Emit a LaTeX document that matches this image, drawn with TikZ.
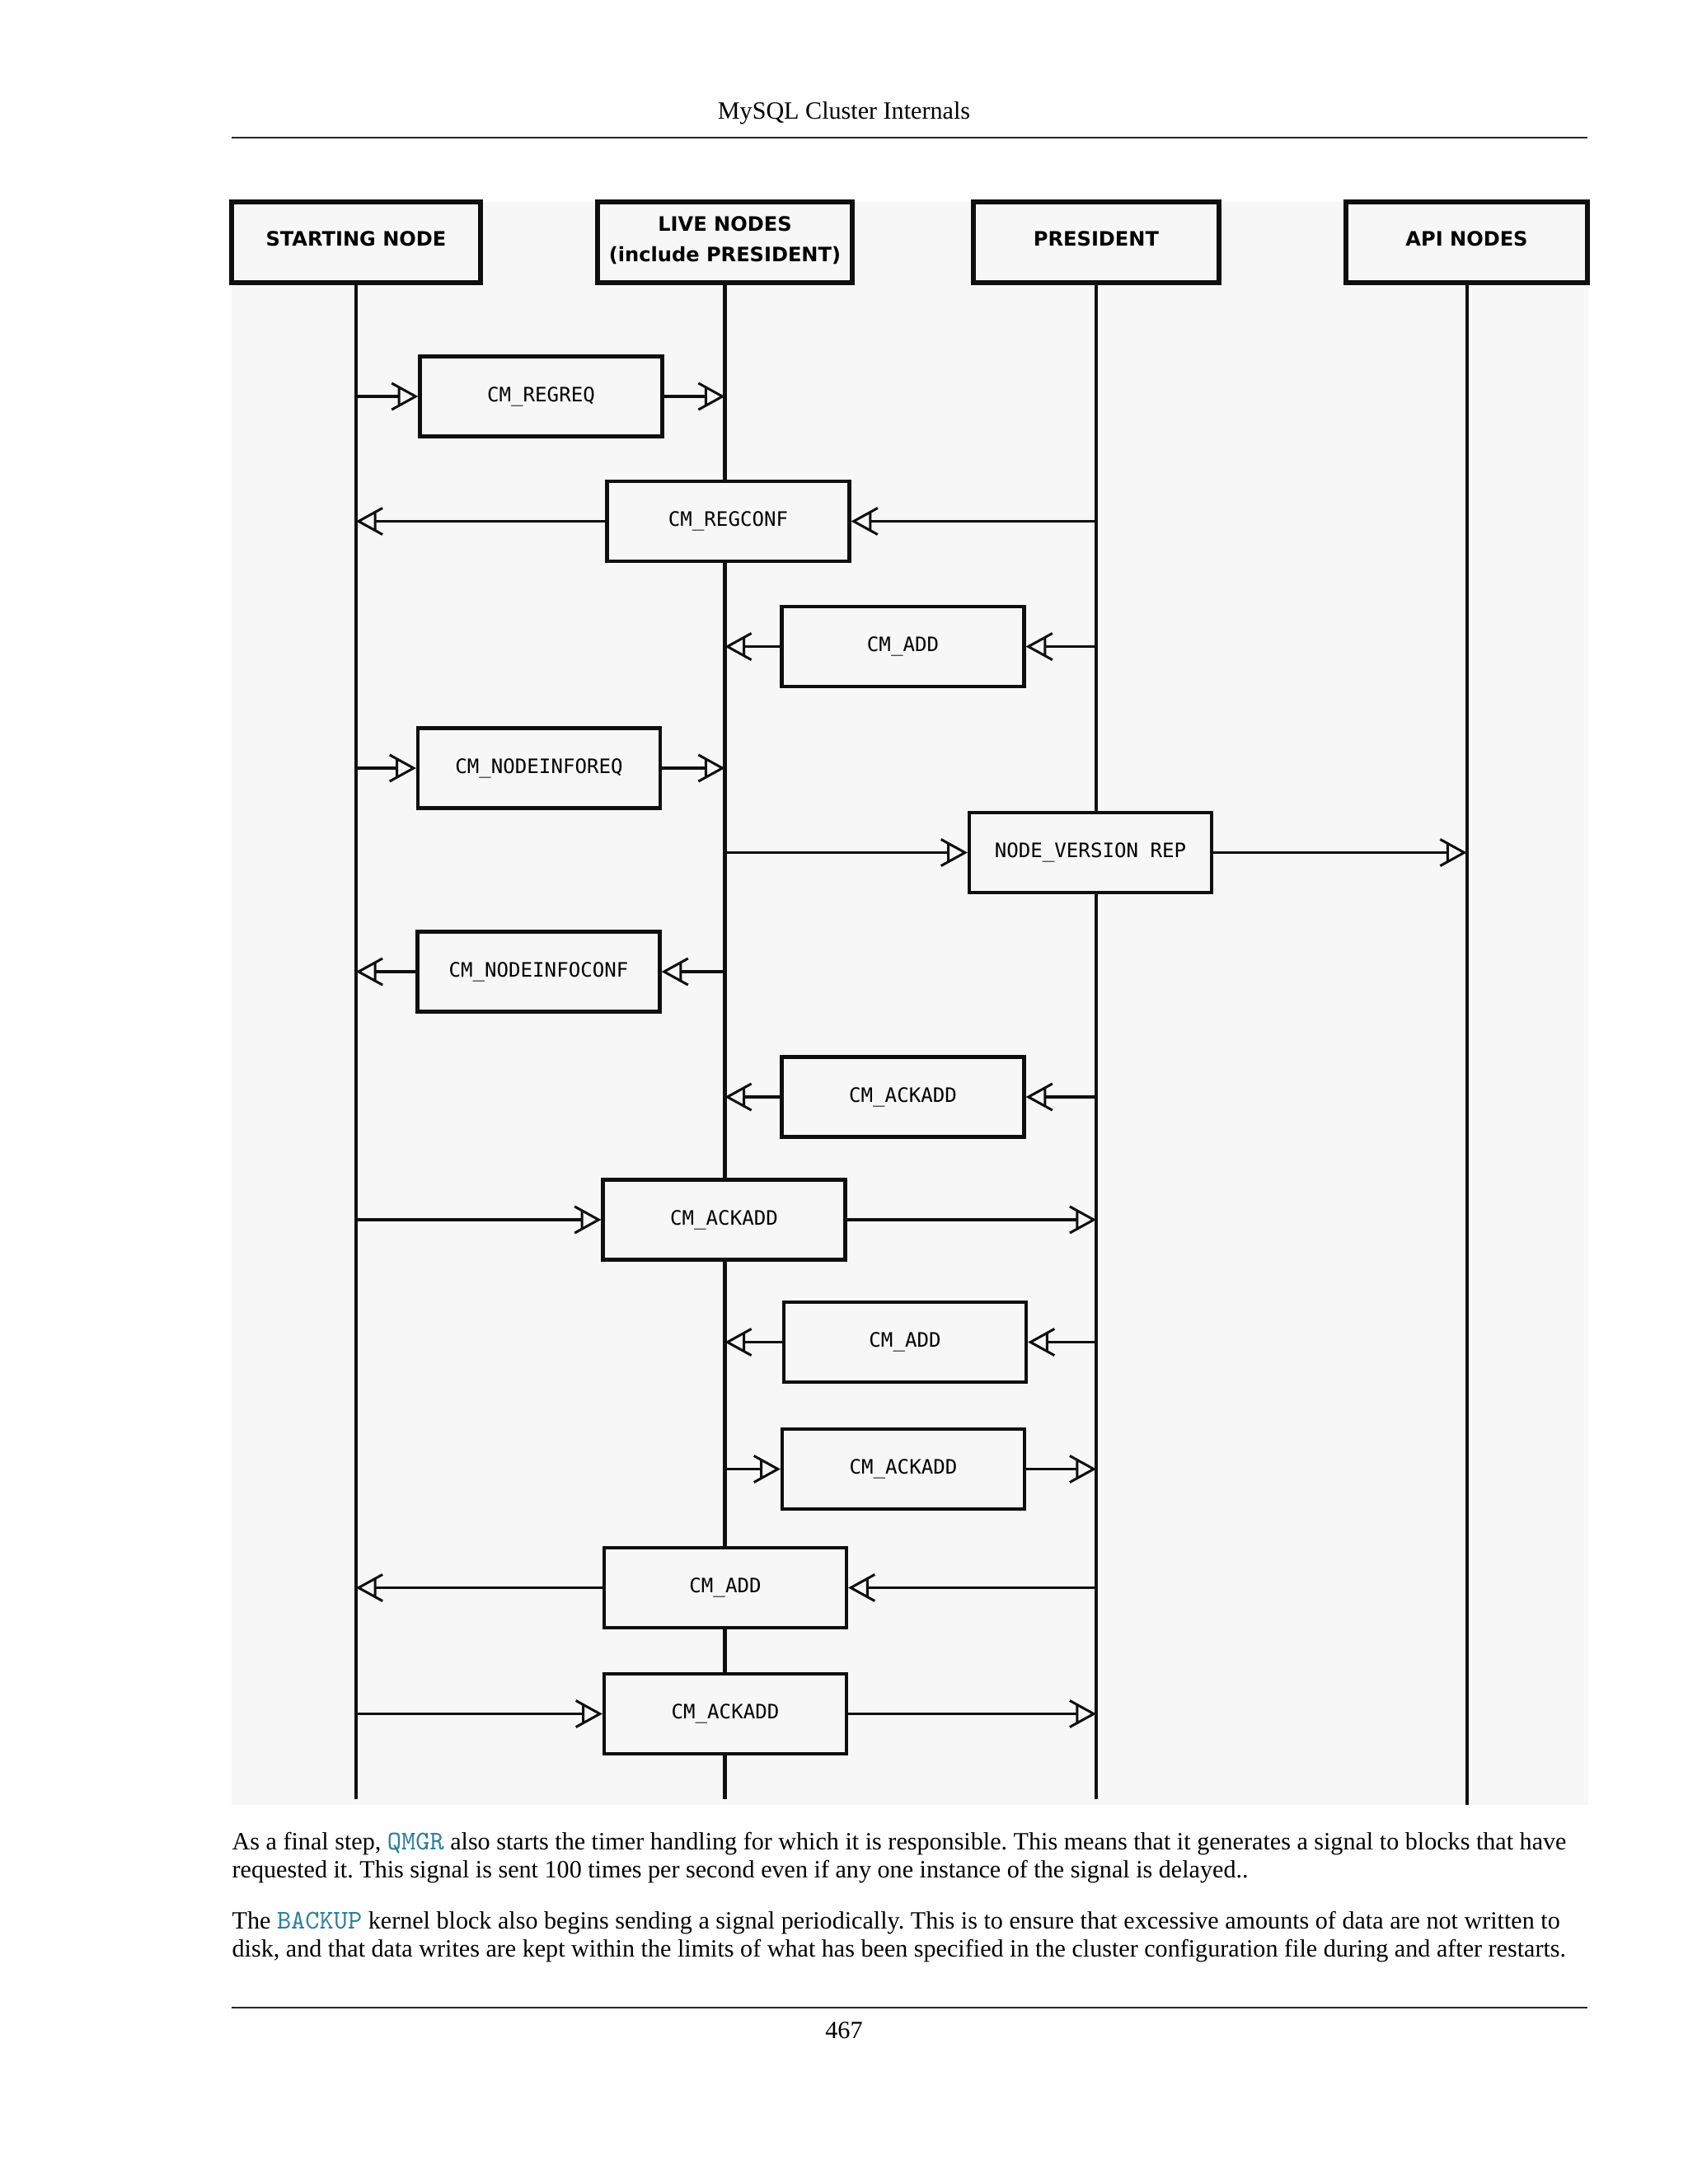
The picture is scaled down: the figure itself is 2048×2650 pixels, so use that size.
\documentclass[tikz,border=0pt]{standalone}
\usepackage{fontspec}
\setmainfont{Liberation Serif}
\newfontfamily\hdrfont{DejaVu Sans}
\newfontfamily\msgfont{DejaVu Sans Mono}
\usetikzlibrary{arrows.meta}
\definecolor{bgc}{RGB}{247,247,247}
\definecolor{linkc}{RGB}{46,125,155}
\definecolor{inkc}{RGB}{15,15,15}
\pgfdeclarearrow{
  name = MsgTip,
  setup code = {
    \pgfarrowssettipend{0.9pt}
    \pgfarrowssetlineend{-6pt}
    \pgfarrowssetvisualbackend{-8.7pt}
    \pgfarrowssetbackend{-8.7pt}
    \pgfarrowshullpoint{0.9pt}{0pt}
    \pgfarrowsupperhullpoint{-8.7pt}{4.8pt}
  },
  drawing code = {
    \pgfsetlinewidth{0.9pt}
    \pgfsetmiterjoin
    \pgfsetbuttcap
    \pgfpathmoveto{\pgfqpoint{-8.7pt}{4.8pt}}
    \pgfpathlineto{\pgfqpoint{0pt}{0pt}}
    \pgfpathlineto{\pgfqpoint{-8.7pt}{-4.8pt}}
    \pgfpathmoveto{\pgfqpoint{-6pt}{3.4pt}}
    \pgfpathlineto{\pgfqpoint{-6pt}{-3.4pt}}
    \pgfusepathqstroke
  }
}
\frenchspacing
\begin{document}
\begin{tikzpicture}[x=0.29883pt,y=-0.29883pt,
  hdr/.style={draw=inkc, line width=1.6pt, fill=bgc, minimum height=29.29pt, inner sep=0pt,
    text depth=2.4pt, font=\hdrfont\bfseries\fontsize{7.2}{11}\selectfont, align=center},
  msgbox/.style={draw=inkc, line width=1.3pt, fill=bgc, minimum width=87.86pt, minimum height=28.99pt,
    inner sep=0pt, font=\msgfont\fontsize{7.2}{9}\selectfont},
  life/.style={draw=inkc, line width=1.2pt},
  msg/.style={draw=inkc, line width=1.1pt, -{MsgTip}},
  rulel/.style={draw=black!85, line width=0.8pt},
  bodytxt/.style={anchor=base west, inner sep=0pt, font=\fontsize{9}{10}\selectfont},
  code/.style={},
]
\useasboundingbox (0,0) rectangle (2048,2650);
\fill[white] (0,0) rectangle (2048,2650);

% page header and footer
\node[anchor=base, inner sep=0pt, font=\fontsize{9}{10}\selectfont] (title) at (1024,144) {MySQL Cluster Internals};
\draw[rulel] (281,167) -- (1926,167);
\draw[rulel] (281,2436) -- (1926,2436);
\node[anchor=base, inner sep=0pt, font=\fontsize{9}{10}\selectfont] (pnum) at (1024,2473) {467};

% diagram background
\fill[bgc] (281,245) rectangle (1927,2190);

% header boxes
\node[hdr, minimum width=90.25pt] (S) at (432,294) {STARTING NODE};
\node[hdr, minimum width=92.34pt] (L) at (879.5,294) {LIVE NODES\\(include PRESIDENT)};
\node[hdr, minimum width=89.05pt] (P) at (1330,294) {PRESIDENT};
\node[hdr, minimum width=87.56pt] (A) at (1779.5,294) {API NODES};

% lifelines
\coordinate (lend) at (0,2183);
\coordinate (aend) at (0,2190);
\draw[life] (S.south) -- (S.south |- lend);
\draw[life] (L.south) -- (L.south |- lend);
\draw[life] (P.south) -- (P.south |- lend);
\draw[life] (A.south) -- (A.south |- aend);

% message boxes
\node[msgbox] (m1)  at (656.5,481)   {CM\_REGREQ};
\node[msgbox] (m2)  at (883.5,632.5) {CM\_REGCONF};
\node[msgbox] (m3)  at (1095.5,784.5){CM\_ADD};
\node[msgbox] (m4)  at (654,932)     {CM\_NODEINFOREQ};
\node[msgbox] (m5)  at (1323,1034.5) {NODE\_VERSION REP};
\node[msgbox] (m6)  at (653.5,1179)  {CM\_NODEINFOCONF};
\node[msgbox] (m7)  at (1095.5,1331) {CM\_ACKADD};
\node[msgbox] (m8)  at (878.5,1480)  {CM\_ACKADD};
\node[msgbox] (m9)  at (1098,1628.5) {CM\_ADD};
\node[msgbox] (m10) at (1096,1782.5) {CM\_ACKADD};
\node[msgbox] (m11) at (880,1926.5)  {CM\_ADD};
\node[msgbox] (m12) at (880,2079.5)  {CM\_ACKADD};

% arrows
\draw[msg] (S.south |- m1.west) -- (m1.west);
\draw[msg] (m1.east) -- (m1.east -| L.south);

\draw[msg] (P.south |- m2.east) -- (m2.east);
\draw[msg] (m2.west) -- (m2.west -| S.south);

\draw[msg] (P.south |- m3.east) -- (m3.east);
\draw[msg] (m3.west) -- (m3.west -| L.south);

\draw[msg] (S.south |- m4.west) -- (m4.west);
\draw[msg] (m4.east) -- (m4.east -| L.south);

\draw[msg] (L.south |- m5.west) -- (m5.west);
\draw[msg] (m5.east) -- (m5.east -| A.south);

\draw[msg] (L.south |- m6.east) -- (m6.east);
\draw[msg] (m6.west) -- (m6.west -| S.south);

\draw[msg] (P.south |- m7.east) -- (m7.east);
\draw[msg] (m7.west) -- (m7.west -| L.south);

\draw[msg] (S.south |- m8.west) -- (m8.west);
\draw[msg] (m8.east) -- (m8.east -| P.south);

\draw[msg] (P.south |- m9.east) -- (m9.east);
\draw[msg] (m9.west) -- (m9.west -| L.south);

\draw[msg] (L.south |- m10.west) -- (m10.west);
\draw[msg] (m10.east) -- (m10.east -| P.south);

\draw[msg] (P.south |- m11.east) -- (m11.east);
\draw[msg] (m11.west) -- (m11.west -| S.south);

\draw[msg] (S.south |- m12.west) -- (m12.west);
\draw[msg] (m12.east) -- (m12.east -| P.south);

% body text
\node[bodytxt] (t1) at (281,2244) {As a final step, {\fontsize{9.8}{10}\ttfamily\color{linkc}QMGR} also starts the timer handling for which it is responsible. This means that it generates a signal to blocks that have};
\node[bodytxt] (t2) at (281,2278) {requested it. This signal is sent 100 times per second even if any one instance of the signal is delayed..};
\node[bodytxt] (t3) at (281,2340) {The {\fontsize{9.8}{10}\ttfamily\color{linkc}BACKUP} kernel block also begins sending a signal periodically. This is to ensure that excessive amounts of data are not written to};
\node[bodytxt] (t4) at (281,2374) {disk, and that data writes are kept within the limits of what has been specified in the cluster configuration file during and after restarts.};
\end{tikzpicture}
\end{document}
